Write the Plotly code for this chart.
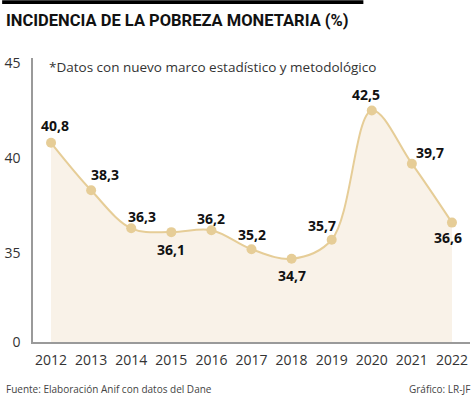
import plotly.graph_objects as go

years = [2012, 2013, 2014, 2015, 2016, 2017, 2018, 2019, 2020, 2021, 2022]
poverty = [40.8, 38.3, 36.3, 36.1, 36.2, 35.2, 34.7, 35.7, 42.5, 39.7, 36.6]
y_tick_vals = [30.32, 35, 40, 45]
y_tick_text = ["0", "35", "40", "45"]

# label offsets (pixels) per point: (xshift, yshift)
label_offsets = [(4, 17), (14, 16), (11, 12), (0, -17), (0, 12), (0, 15),
                 (0, -17), (-10, 14), (-6, 16), (18, 11), (-4, -15)]

LINE = "#e6cd97"
FILL = "#f9f2e8"

fig = go.Figure()
fig.add_trace(go.Scatter(
    x=years, y=poverty, mode="lines+markers",
    line=dict(color=LINE, width=2, shape="spline", smoothing=1),
    marker=dict(color=LINE, size=10),
    fill="tozeroy", fillcolor=FILL,
    hoverinfo="skip", showlegend=False,
))

for (x, v, (dx, dy)) in zip(years, poverty, label_offsets):
    fig.add_annotation(
        x=x, y=v, text="<b>" + f"{v:.1f}".replace(".", ",") + "</b>",
        showarrow=False, xshift=dx, yshift=dy,
        font=dict(family="Open Sans", size=14, color="#111"),
    )

fig.update_layout(
    width=474, height=395,
    margin=dict(l=31, r=4, t=58, b=53),
    paper_bgcolor="white", plot_bgcolor="white",
    font=dict(family="Open Sans", color="#333"),
    xaxis=dict(
        range=[2011.55, 2022.45], tickmode="array", tickvals=years,
        ticktext=[str(y) for y in years], showgrid=False, zeroline=False,
        showline=True, linecolor="#9a9a9a", linewidth=1.5,
        ticks="", ticklabelstandoff=4,
        tickfont=dict(family="Open Sans", size=14, color="#333"),
    ),
    yaxis=dict(
        range=[30.32, 45.26], tickmode="array", tickvals=y_tick_vals,
        ticktext=y_tick_text, showgrid=False, zeroline=False,
        showline=True, linecolor="#9a9a9a", linewidth=1.5,
        ticks="", ticklabelstandoff=8,
        tickfont=dict(family="Open Sans", size=14, color="#333"),
    ),
    shapes=[dict(type="rect", xref="paper", yref="paper",
                 x0=-0.0706, x1=0.756, y0=1.190, y1=1.2035,
                 fillcolor="black", line=dict(width=0), layer="above")],
)

fig.add_annotation(
    xref="paper", yref="paper", x=-0.066, y=1.132, xanchor="left", yanchor="middle",
    text="<b>INCIDENCIA DE LA POBREZA MONETARIA (%)</b>", showarrow=False,
    font=dict(family="Roboto", size=16.5, color="#111"),
)
fig.add_annotation(
    xref="paper", yref="paper", x=0.032, y=0.97, xanchor="left", yanchor="middle",
    text="*Datos con nuevo marco estadístico y metodológico", showarrow=False,
    font=dict(family="Open Sans", size=13.5, color="#333"),
)
fig.add_annotation(
    xref="paper", yref="paper", x=-0.066, y=-0.165, xanchor="left", yanchor="middle",
    text="Fuente: Elaboración Anif con datos del Dane", showarrow=False,
    font=dict(family="Open Sans", size=10, color="#444"),
)
fig.add_annotation(
    xref="paper", yref="paper", x=1.005, y=-0.165, xanchor="right", yanchor="middle",
    text="Gráfico: LR-JF", showarrow=False,
    font=dict(family="Open Sans", size=10, color="#444"),
)

fig.write_html("out.html", config={"displayModeBar": False},
               post_script="document.body.style.margin='0';document.body.style.overflow='hidden';")
